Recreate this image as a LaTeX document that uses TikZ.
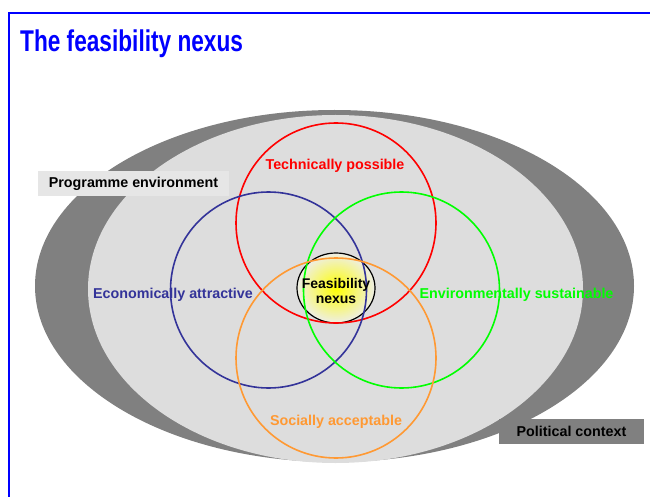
\documentclass[tikz,border=0pt]{standalone}
\usepackage{fontspec}
\setmainfont{Liberation Sans}
\newfontfamily\narrowfont{Liberation Sans}[FakeStretch=0.755]
\usepackage{tikz}
\usetikzlibrary{positioning,shapes.geometric}
\definecolor{slideblue}{HTML}{0000FF}
\definecolor{econblue}{HTML}{333399}
\definecolor{techred}{HTML}{FF0000}
\definecolor{envgreen}{HTML}{00FF00}
\definecolor{socorange}{HTML}{FF9933}
\definecolor{ctxgray}{HTML}{808080}
\definecolor{envgray}{HTML}{DDDDDD}
\definecolor{boxgray}{HTML}{E6E6E6}
\definecolor{nexusrim}{HTML}{EEEEE6}
\tikzset{
  % ringar
  vc/.style={line width=1.6pt},
  % etiketter
  vl/.style={font=\fontsize{14.3}{15}\selectfont\bfseries,inner sep=0pt,anchor=base},
  tagbox/.style={font=\fontsize{14.3}{15}\selectfont\bfseries,inner sep=0pt,
                 minimum height=25pt,text=black},
}

\begin{document}
\begin{tikzpicture}[x=1pt,y=-1pt]
\useasboundingbox (0,0) rectangle (650,497);
  % ram och rubrik
  \draw[slideblue,line width=2pt] (9,497) -- (9,13) -- (650,13);
  \node[anchor=base west,inner sep=0pt,text=slideblue,
        font=\narrowfont\fontsize{30}{32}\selectfont\bfseries] (title) at (20,52) {The feasibility nexus};
  % omgivning
  \fill[ctxgray] (334.5,286) ellipse [x radius=299.5pt,y radius=176pt];
  \fill[envgray] (335.5,289) ellipse [x radius=247.5pt,y radius=174pt];
  % nexus
  \shade[inner color=yellow,outer color=nexusrim] (336,288) ellipse [x radius=39pt,y radius=35pt];
  \draw[black,line width=1.2pt] (336,288) ellipse [x radius=39pt,y radius=35pt];
  % cirklar
  \draw[vc,techred] (336,223) circle [radius=100pt];
  \draw[vc,econblue] (268.5,290) circle [radius=98pt];
  \draw[vc,envgreen] (401.5,290) circle [radius=98pt];
  \draw[vc,socorange] (336,358) circle [radius=100pt];
  % texter
  \node[vl,text=techred] (tech) at (335,170) {Technically possible};
  \node[vl,text=econblue] (econ) at (173,298) {Economically attractive};
  \node[vl,text=envgreen] (env) at (516.5,298) {Environmentally sustainable};
  \node[vl,text=socorange] (soc) at (336,425) {Socially acceptable};
  \node[font=\fontsize{14}{15}\selectfont\bfseries,align=center,inner sep=0pt] (nexus) at (336,291) {Feasibility\\nexus};
  \node[tagbox,fill=boxgray,minimum width=191pt] (prog) at (133.5,183.5) {Programme environment};
  \node[tagbox,fill=ctxgray,minimum width=145pt] (pol) at (571.5,431) {Political context};
\end{tikzpicture}
\end{document}
